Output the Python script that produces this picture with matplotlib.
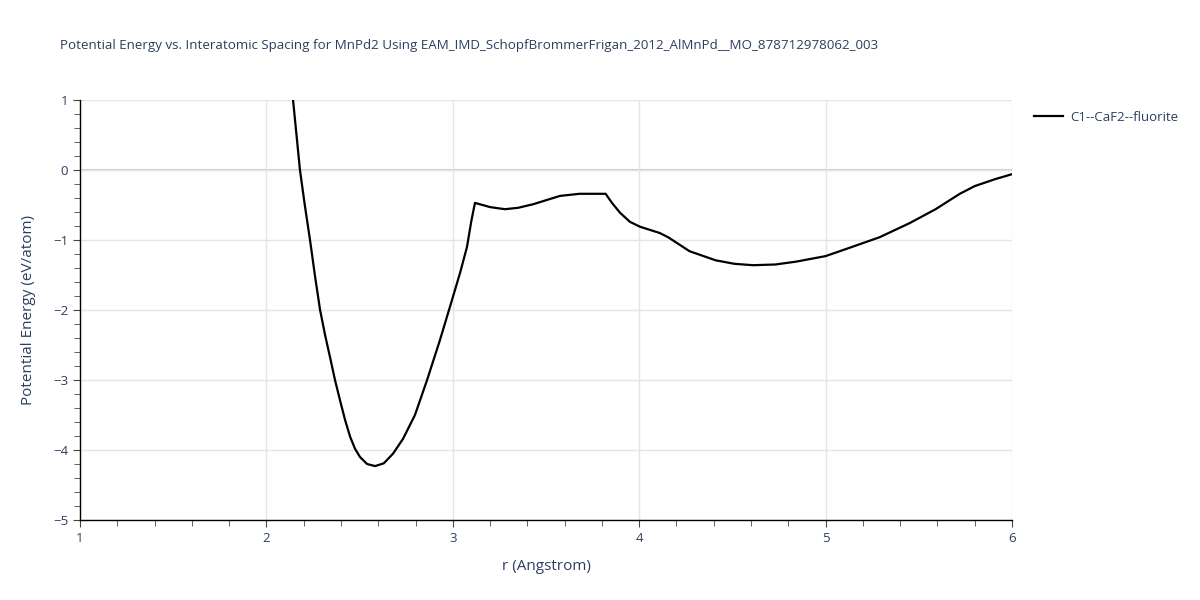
import matplotlib
matplotlib.use("Agg")
import matplotlib.pyplot as plt
from matplotlib.ticker import MultipleLocator

r = [2.143, 2.18, 2.207, 2.234, 2.261, 2.288, 2.315, 2.341, 2.368, 2.395, 2.422, 2.449,
     2.475, 2.502, 2.54, 2.583, 2.63, 2.68, 2.733, 2.797, 2.862, 2.931,
     3.001, 3.04, 3.076, 3.1, 3.119, 3.2, 3.28, 3.35,
     3.43, 3.575, 3.68, 3.82, 3.854, 3.897, 3.95, 4.004, 4.11, 4.155, 4.27, 4.41, 4.51,
     4.61, 4.73, 4.84, 5.0, 5.13, 5.29, 5.45, 5.59, 5.72, 5.8, 5.91, 6.0]
energy = [1.0, 0.0, -0.52, -1.0, -1.52, -2.0, -2.36, -2.67, -3.0, -3.29, -3.57, -3.81,
          -3.98, -4.1, -4.2, -4.23, -4.19, -4.05, -3.84, -3.5, -3.0, -2.43,
          -1.81, -1.46, -1.1, -0.72, -0.47, -0.53, -0.56, -0.54,
          -0.49, -0.37, -0.34, -0.34, -0.47, -0.61, -0.74, -0.81, -0.9, -0.96, -1.16, -1.29, -1.34,
          -1.36, -1.35, -1.31, -1.23, -1.11, -0.96, -0.76, -0.56, -0.34, -0.23, -0.13, -0.06]
series_name = "C1--CaF2--fluorite"
title = "Potential Energy vs. Interatomic Spacing for MnPd2 Using EAM_IMD_SchopfBrommerFrigan_2012_AlMnPd__MO_878712978062_003"

txt = "#2a3f5f"
plt.rcParams['font.family'] = ['Open Sans', 'DejaVu Sans']

fig = plt.figure(figsize=(12, 6), dpi=100)
ax = fig.add_axes([80/1200, 80/600, 932/1200, 420/600])
ax.plot(r, energy, color="black", lw=1.6, label=series_name, zorder=3)
ax.set_xlim(1, 6)
ax.set_ylim(-5, 1)
ax.xaxis.set_major_locator(MultipleLocator(1))
ax.xaxis.set_minor_locator(MultipleLocator(0.2))
ax.yaxis.set_major_locator(MultipleLocator(1))
ax.yaxis.set_minor_locator(MultipleLocator(0.2))
ax.grid(True, which="major", color="#e5e5e5", lw=1, zorder=0)
ax.axhline(0, color="#cccccc", lw=1.5, zorder=1)
for s in ["top", "right"]:
    ax.spines[s].set_visible(False)
for s in ["left", "bottom"]:
    ax.spines[s].set_color("black")
    ax.spines[s].set_linewidth(1)
ax.tick_params(which="both", direction="out", colors="#444444", labelcolor=txt, labelsize=9.5)
ax.tick_params(which="major", length=5)
ax.tick_params(which="minor", length=4)
ax.set_yticks([1, 0, -1, -2, -3, -4, -5])
ax.set_yticklabels(["1", "0", "\u22121", "\u22122", "\u22123", "\u22124", "\u22125"])
ax.set_xlabel("r (Angstrom)", color=txt, fontsize=11, labelpad=10)
ax.set_ylabel("Potential Energy (eV/atom)", color=txt, fontsize=11, labelpad=12)
fig.text(60/1200, 1 - 45/600, title, color=txt, fontsize=9.6, va="center", ha="left")
leg = ax.legend(loc="upper left", bbox_to_anchor=(1.012, 1.0), frameon=False, fontsize=9.5,
                handlelength=2.2, handletextpad=0.6, borderaxespad=0.4)
for t in leg.get_texts():
    t.set_color(txt)
fig.savefig("out.png", dpi=100)
